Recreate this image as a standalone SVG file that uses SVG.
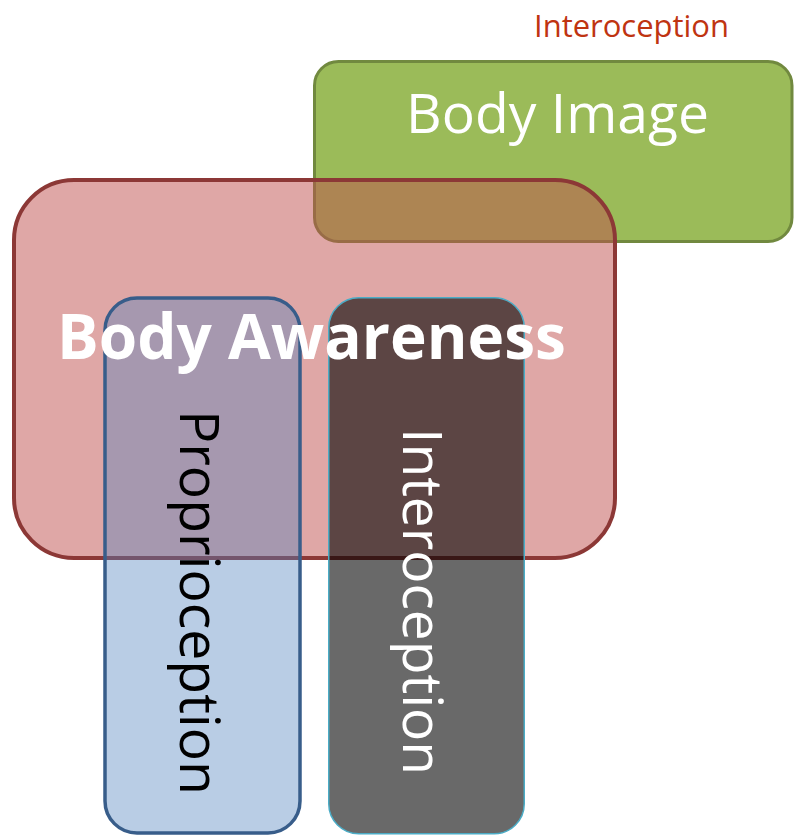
<svg xmlns="http://www.w3.org/2000/svg" width="794" height="836" viewBox="0 0 794 836">
<defs>
<style>
.t{font-family:"Open Sans","Noto Sans","Liberation Sans",sans-serif;}
</style>
</defs>
<rect width="794" height="836" fill="#fff"/>
<g id="label-top">
<text class="t" x="534" y="37" font-size="30.5" fill="#BF3411" textLength="195" lengthAdjust="spacingAndGlyphs">Interoception</text>
</g>
<g id="body-image">
<rect x="314.5" y="61.5" width="477.5" height="180" rx="24" fill="#9BBB59" stroke="#71893F" stroke-width="3"/>
<text class="t" x="557.5" y="133" font-size="55" fill="#fff" text-anchor="middle" textLength="303" lengthAdjust="spacingAndGlyphs">Body Image</text>
</g>
<g id="body-awareness-box">
<rect x="14" y="180" width="601" height="378" rx="60" fill="#C0504D" fill-opacity="0.5" stroke="#8C3836" stroke-width="4"/>
</g>
<g id="proprioception">
<rect x="105" y="298" width="195" height="535" rx="32" fill="#4F81BD" fill-opacity="0.4" stroke="#385D8A" stroke-width="3.5"/>
</g>
<g id="interoception">
<rect x="328.75" y="297.75" width="195.5" height="536" rx="30" fill="#000" fill-opacity="0.59" stroke="#4BACC6" stroke-width="1.5"/>
</g>
<g id="labels">
<text class="t" transform="translate(180,602.5) rotate(90)" font-size="55" fill="#000" text-anchor="middle" textLength="385" lengthAdjust="spacingAndGlyphs">Proprioception</text>
<text class="t" transform="translate(403,601.5) rotate(90)" font-size="55" fill="#fff" text-anchor="middle" textLength="347" lengthAdjust="spacingAndGlyphs">Interoception</text>
<text class="t" x="311.5" y="359" font-size="63" font-weight="bold" fill="#fff" text-anchor="middle" textLength="509" lengthAdjust="spacingAndGlyphs">Body Awareness</text>
</g>
<g id="connectors"/>
</svg>
